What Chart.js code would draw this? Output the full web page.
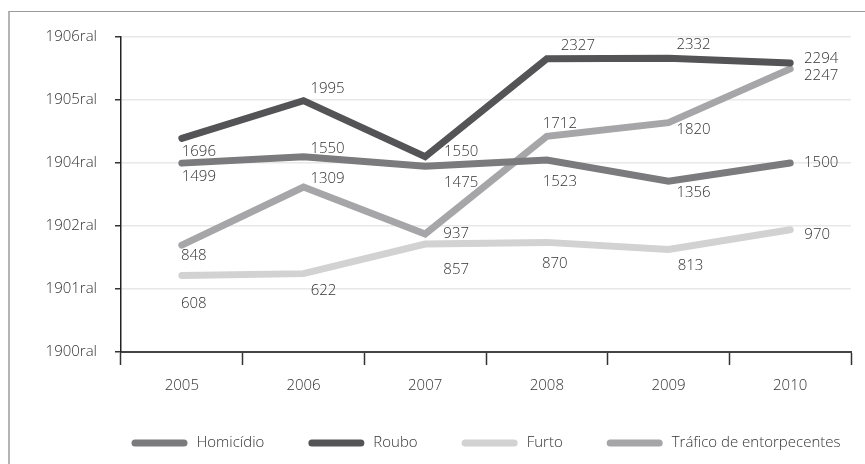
<!DOCTYPE html>
<html>
<head>
<meta charset="utf-8">
<script src="https://cdn.jsdelivr.net/npm/chart.js@4"></script>
<style>
  html, body { margin: 0; padding: 0; background: #fff; }
  body { width: 865px; height: 464px; overflow: hidden; position: relative; }
  #frame { position: absolute; left: 8px; top: 11px; width: 900px; height: 500px;
           border-left: 2px solid #b4b4b4; border-top: 1px solid #9a9a9a; }
  #wrap { position: absolute; left: 0; top: 0; width: 865px; height: 464px; }
</style>
</head>
<body>
<div id="frame"></div>
<div id="wrap"><canvas id="c" width="865" height="464"></canvas></div>
<script>
// Ocorrências por ano
const years = ['2005', '2006', '2007', '2008', '2009', '2010'];
const homicidio = [1499, 1550, 1475, 1523, 1356, 1500];
const roubo     = [1696, 1995, 1550, 2327, 2332, 2294];
const furto     = [608, 622, 857, 870, 813, 970];
const trafico   = [848, 1309, 937, 1712, 1820, 2247];
const yTickLabels = ['1900ral', '1901ral', '1902ral', '1904ral', '1905ral', '1906ral'];
const seriesNames = ['Homicídio', 'Roubo', 'Furto', 'Tráfico de entorpecentes'];
const seriesColors = ['#7b7b7d', '#545456', '#d2d2d2', '#a6a6a8'];

// Where each value label sits relative to its point (dx, dy)
const labelOffsets = [
  [[17, 14], [24, -8], [36, 17], [13, 22], [25, 12], [31, 0]],
  [[17, 13], [24, -12], [36, -5], [31, -13], [25, -13], [31, -4]],
  [[12, 28], [20, 17], [31, 26], [8, 21], [22, 16], [27, 5]],
  [[12, 11], [24, -8], [31, 0], [13, -13], [25, 7], [31, 7]]
];

const FONT = '"Open Sans", "Noto Sans", sans-serif';
const TEXT = '#333';
const seriesValues = [homicidio, roubo, furto, trafico];

const valueLabels = {
  id: 'valueLabels',
  afterDatasetsDraw(chart) {
    const ctx = chart.ctx;
    ctx.save();
    ctx.font = '300 15px ' + FONT;
    ctx.fillStyle = TEXT;
    ctx.textAlign = 'center';
    ctx.textBaseline = 'middle';
    chart.data.datasets.forEach((ds, di) => {
      const meta = chart.getDatasetMeta(di);
      meta.data.forEach((pt, i) => {
        const off = labelOffsets[di][i];
        ctx.fillText(String(ds.data[i]), pt.x + off[0], pt.y + off[1]);
      });
    });
    ctx.restore();
  }
};

const bottomLegend = {
  id: 'bottomLegend',
  afterDraw(chart) {
    const ctx = chart.ctx;
    ctx.save();
    ctx.font = '300 15px ' + FONT;
    const sw = 56, sh = 7, gapText = 9, gapItem = 44;
    const widths = seriesNames.map(n => ctx.measureText(n).width);
    let total = 0;
    widths.forEach((w, i) => { total += sw + gapText + w + (i < widths.length - 1 ? gapItem : 0); });
    const area = chart.chartArea;
    let x = (area.left + area.right) / 2 - total / 2;
    const y = 443;
    seriesNames.forEach((n, i) => {
      ctx.fillStyle = seriesColors[i];
      ctx.beginPath();
      ctx.roundRect(x, y - sh / 2, sw, sh, sh / 2);
      ctx.fill();
      ctx.fillStyle = TEXT;
      ctx.textAlign = 'left';
      ctx.textBaseline = 'middle';
      ctx.fillText(n, x + sw + gapText, y);
      x += sw + gapText + widths[i] + gapItem;
    });
    ctx.restore();
  }
};

new Chart(document.getElementById('c'), {
  type: 'line',
  data: {
    labels: years,
    datasets: seriesNames.map((name, i) => ({
      label: name,
      data: seriesValues[i],
      borderColor: seriesColors[i],
      backgroundColor: seriesColors[i],
      borderWidth: 7,
      borderCapStyle: 'round',
      borderJoinStyle: 'miter',
      pointRadius: 0,
      pointHoverRadius: 0,
      tension: 0,
      fill: false
    }))
  },
  options: {
    responsive: false,
    animation: false,
    devicePixelRatio: 1,
    layout: { padding: { left: 0, right: 14, top: 37, bottom: 0 } },
    plugins: { legend: { display: false }, tooltip: { enabled: false } },
    scales: {
      x: {
        type: 'category',
        offset: true,
        grid: { offset: true, drawOnChartArea: false, drawTicks: true, tickLength: 13,
                tickColor: '#333', tickWidth: 1.5 },
        border: { display: true, color: '#444', width: 2 },
        ticks: { padding: 12, color: TEXT, font: { family: FONT, size: 15, weight: '300' } },
        afterFit(s) { s.height = 112; }
      },
      y: {
        min: 0,
        max: 2500,
        ticks: { stepSize: 500, padding: 18, color: TEXT,
                 font: { family: FONT, size: 15, weight: '300' },
                 callback: (v, i) => yTickLabels[i] },
        grid: { color: '#e8e8e8', lineWidth: 1.5, tickLength: 6, tickColor: '#333', tickWidth: 1.5 },
        border: { display: true, color: '#222', width: 1.5 },
        afterFit(s) { s.width = 121; }
      }
    }
  },
  plugins: [valueLabels, bottomLegend]
});
</script>
</body>
</html>
